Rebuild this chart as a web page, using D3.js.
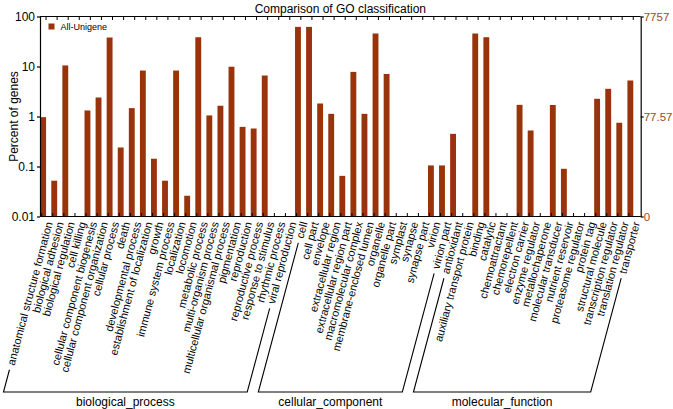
<!DOCTYPE html>
<html><head><meta charset="utf-8">
<script src="https://cdn.jsdelivr.net/npm/d3@7"></script>
<style>body{margin:0;background:#fff}svg{display:block;font-family:"Liberation Sans",Arial,sans-serif}</style>
</head><body>
<svg id="c" width="673" height="409"></svg>
<script>
// ---- data ----
const bpCats = ["anatomical structure formation","biological adhesion","biological regulation","cell killing","cellular component biogenesis","cellular component organization","cellular process","death","developmental process","establishment of localization","growth","immune system process","localization","locomotion","metabolic process","multi-organism process","multicellular organismal process","pigmentation","reproduction","reproductive process","response to stimulus","rhythmic process","viral reproduction"];
const bpValues = [0.97,0.052,10.5,0,1.32,2.4,38,0.24,1.47,8.3,0.143,0.052,8.3,0.026,38.5,1.05,1.64,9.9,0.62,0.575,6.6,0,0];
const ccCats = ["cell","cell part","envelope","extracellular region","extracellular region part","macromolecular complex","membrane-enclosed lumen","organelle","organelle part","symplast","synapse","synapse part","virion","virion part"];
const ccValues = [62,62,1.82,1.13,0.065,7.8,1.13,45.7,7.1,0,0,0,0.105,0.105];
const mfCats = ["antioxidant","auxiliary transport protein","binding","catalytic","chemoattractant","chemorepellent","electron carrier","enzyme regulator","metallochaperone","molecular transducer","nutrient reservoir","proteasome regulator","protein tag","structural molecule","transcription regulator","translation regulator","transporter"];
const mfValues = [0.45,0,45.7,38.5,0,0,1.71,0.525,0,1.7,0.09,0,0,2.26,3.58,0.75,5.25];
const groupNames = ["biological_process","cellular_component","molecular_function"];
const leftTicks = [0.01,0.1,1,10,100];
const leftTickLabels = ["0.01","0.1","1","10","100"];
const totalGenes = 7757;
const rightTickLabels = ["0","77.57","7757"];
const seriesName = "All-Unigene";
const titleText = "Comparison of GO classification";
const yTitle = "Percent of genes";

// ---- build ----
const groups = [
  {name:groupNames[0], cats:bpCats, vals:bpValues},
  {name:groupNames[1], cats:ccCats, vals:ccValues},
  {name:groupNames[2], cats:mfCats, vals:mfValues}
];
const rows = [];
groups.forEach(g => g.cats.forEach((c,i) => rows.push({cat:c, val:g.vals[i], group:g.name})));
const allCats = rows.map(r => r.cat);

const barColor = "#99330c", rightColor = "#a3472a";
const svg = d3.select("#c");
const L = 40, R = 640.7, T = 16.5, B = 216.5;

const x = d3.scaleBand().domain(allCats).range([40.5, 638.8]).padding(0);
const bw = x.bandwidth();
const y = d3.scaleLog().domain([0.01,100]).range([B, T]);
const yR = d3.scaleLog().domain([0.01*totalGenes/100, totalGenes]).range([B, T]);

// title
svg.append("text").attr("x", (L+R)/2).attr("y", 12.5).attr("text-anchor","middle")
  .attr("font-size",12).text(titleText);

// bars
svg.append("g").selectAll("rect").data(rows.filter(r => r.val > 0)).join("rect")
  .attr("x", d => x(d.cat) - 0.3).attr("width", bw*0.53)
  .attr("y", d => y(d.val)).attr("height", d => B - y(d.val))
  .attr("fill", barColor);

// frame
const frame = svg.append("g").attr("stroke","#000").attr("stroke-width",1.2);
frame.append("line").attr("x1",L).attr("x2",R).attr("y1",T).attr("y2",T);
frame.append("line").attr("x1",L).attr("x2",R).attr("y1",B).attr("y2",B);

// top ticks (inward)
const gTop = svg.append("g").attr("transform",`translate(0,${T})`)
  .call(d3.axisTop(x).tickSize(-3.5).tickSizeOuter(0).tickFormat(""));
gTop.select(".domain").remove();
// bottom ticks (inward)
const xb = x.copy().range([40.5 - bw/2 + 1.2, 638.8 - bw/2 + 1.2]);
const gBot = svg.append("g").attr("transform",`translate(0,${B})`)
  .call(d3.axisBottom(xb).tickSize(-3.5).tickSizeOuter(0).tickFormat(""));
gBot.select(".domain").remove();

// left axis
const gL = svg.append("g").attr("transform",`translate(${L},0)`)
  .call(d3.axisLeft(y).tickValues(leftTicks).tickSize(3).tickSizeOuter(0).tickPadding(2)
    .tickFormat((d,i) => leftTickLabels[i]));
gL.selectAll("text").attr("font-size",12).attr("font-family","Liberation Sans, Arial, sans-serif").attr("fill","#000");
gL.selectAll("line,path").attr("stroke","#000").attr("stroke-width",1.2);

// right axis
const rightTicks = [0.01,1,100].map(p => p*totalGenes/100);
const gR = svg.append("g").attr("transform",`translate(${R},0)`)
  .call(d3.axisRight(yR).tickValues(rightTicks).tickSize(3).tickSizeOuter(0).tickPadding(0)
    .tickFormat((d,i) => rightTickLabels[i]));
gR.selectAll("text").attr("font-size",11.5).attr("font-family","Liberation Sans, Arial, sans-serif").attr("fill",rightColor);
gR.selectAll("line,path").attr("stroke","#000").attr("stroke-width",1.2);

// y title
svg.append("text").attr("transform",`translate(17.5,${(T+B)/2}) rotate(-90)`)
  .attr("text-anchor","middle").attr("font-size",12).text(yTitle);

// legend
svg.append("rect").attr("x",48.5).attr("y",23.5).attr("width",6).attr("height",6).attr("fill",barColor);
svg.append("text").attr("x",60.5).attr("y",26.5).attr("dy","0.35em").attr("font-size",9).text(seriesName);

// category labels
const ang = 75, rad = ang*Math.PI/180, cs = Math.cos(rad), sn = Math.sin(rad);
const labY = 222, offX = 3;
const anchorX = d => x(d) + bw/2 + offX;
const labs = svg.append("g").selectAll("text").data(allCats).join("text")
  .attr("transform", d => `translate(${anchorX(d)},${labY}) rotate(-${ang})`)
  .attr("text-anchor","end").attr("dy","0.35em").attr("font-size",11).text(d => d);
const lenOf = {};
labs.each(function(d){ lenOf[d] = this.getComputedTextLength(); });

// group brackets
const baseY = 392, gap = 5;
const br = svg.append("g").attr("stroke","#000").attr("stroke-width",1.1).attr("fill","none");
groups.forEach(g => {
  const ends = [g.cats[0], g.cats[g.cats.length-1]].map(c => {
    const ax = anchorX(c);
    const tEnd = (baseY - labY)/sn;
    const t0 = Math.min(lenOf[c] + gap, tEnd);
    return {x0: ax - t0*cs, y0: labY + t0*sn, x1: ax - tEnd*cs, y1: baseY};
  });
  const p = d3.path();
  p.moveTo(ends[0].x0, ends[0].y0); p.lineTo(ends[0].x1, ends[0].y1);
  p.lineTo(ends[1].x1, ends[1].y1); p.lineTo(ends[1].x0, ends[1].y0);
  br.append("path").attr("d", p.toString());
  svg.append("text").attr("x",(ends[0].x1+ends[1].x1)/2).attr("y",406)
    .attr("text-anchor","middle").attr("font-size",12).text(g.name);
});
</script>
</body></html>
